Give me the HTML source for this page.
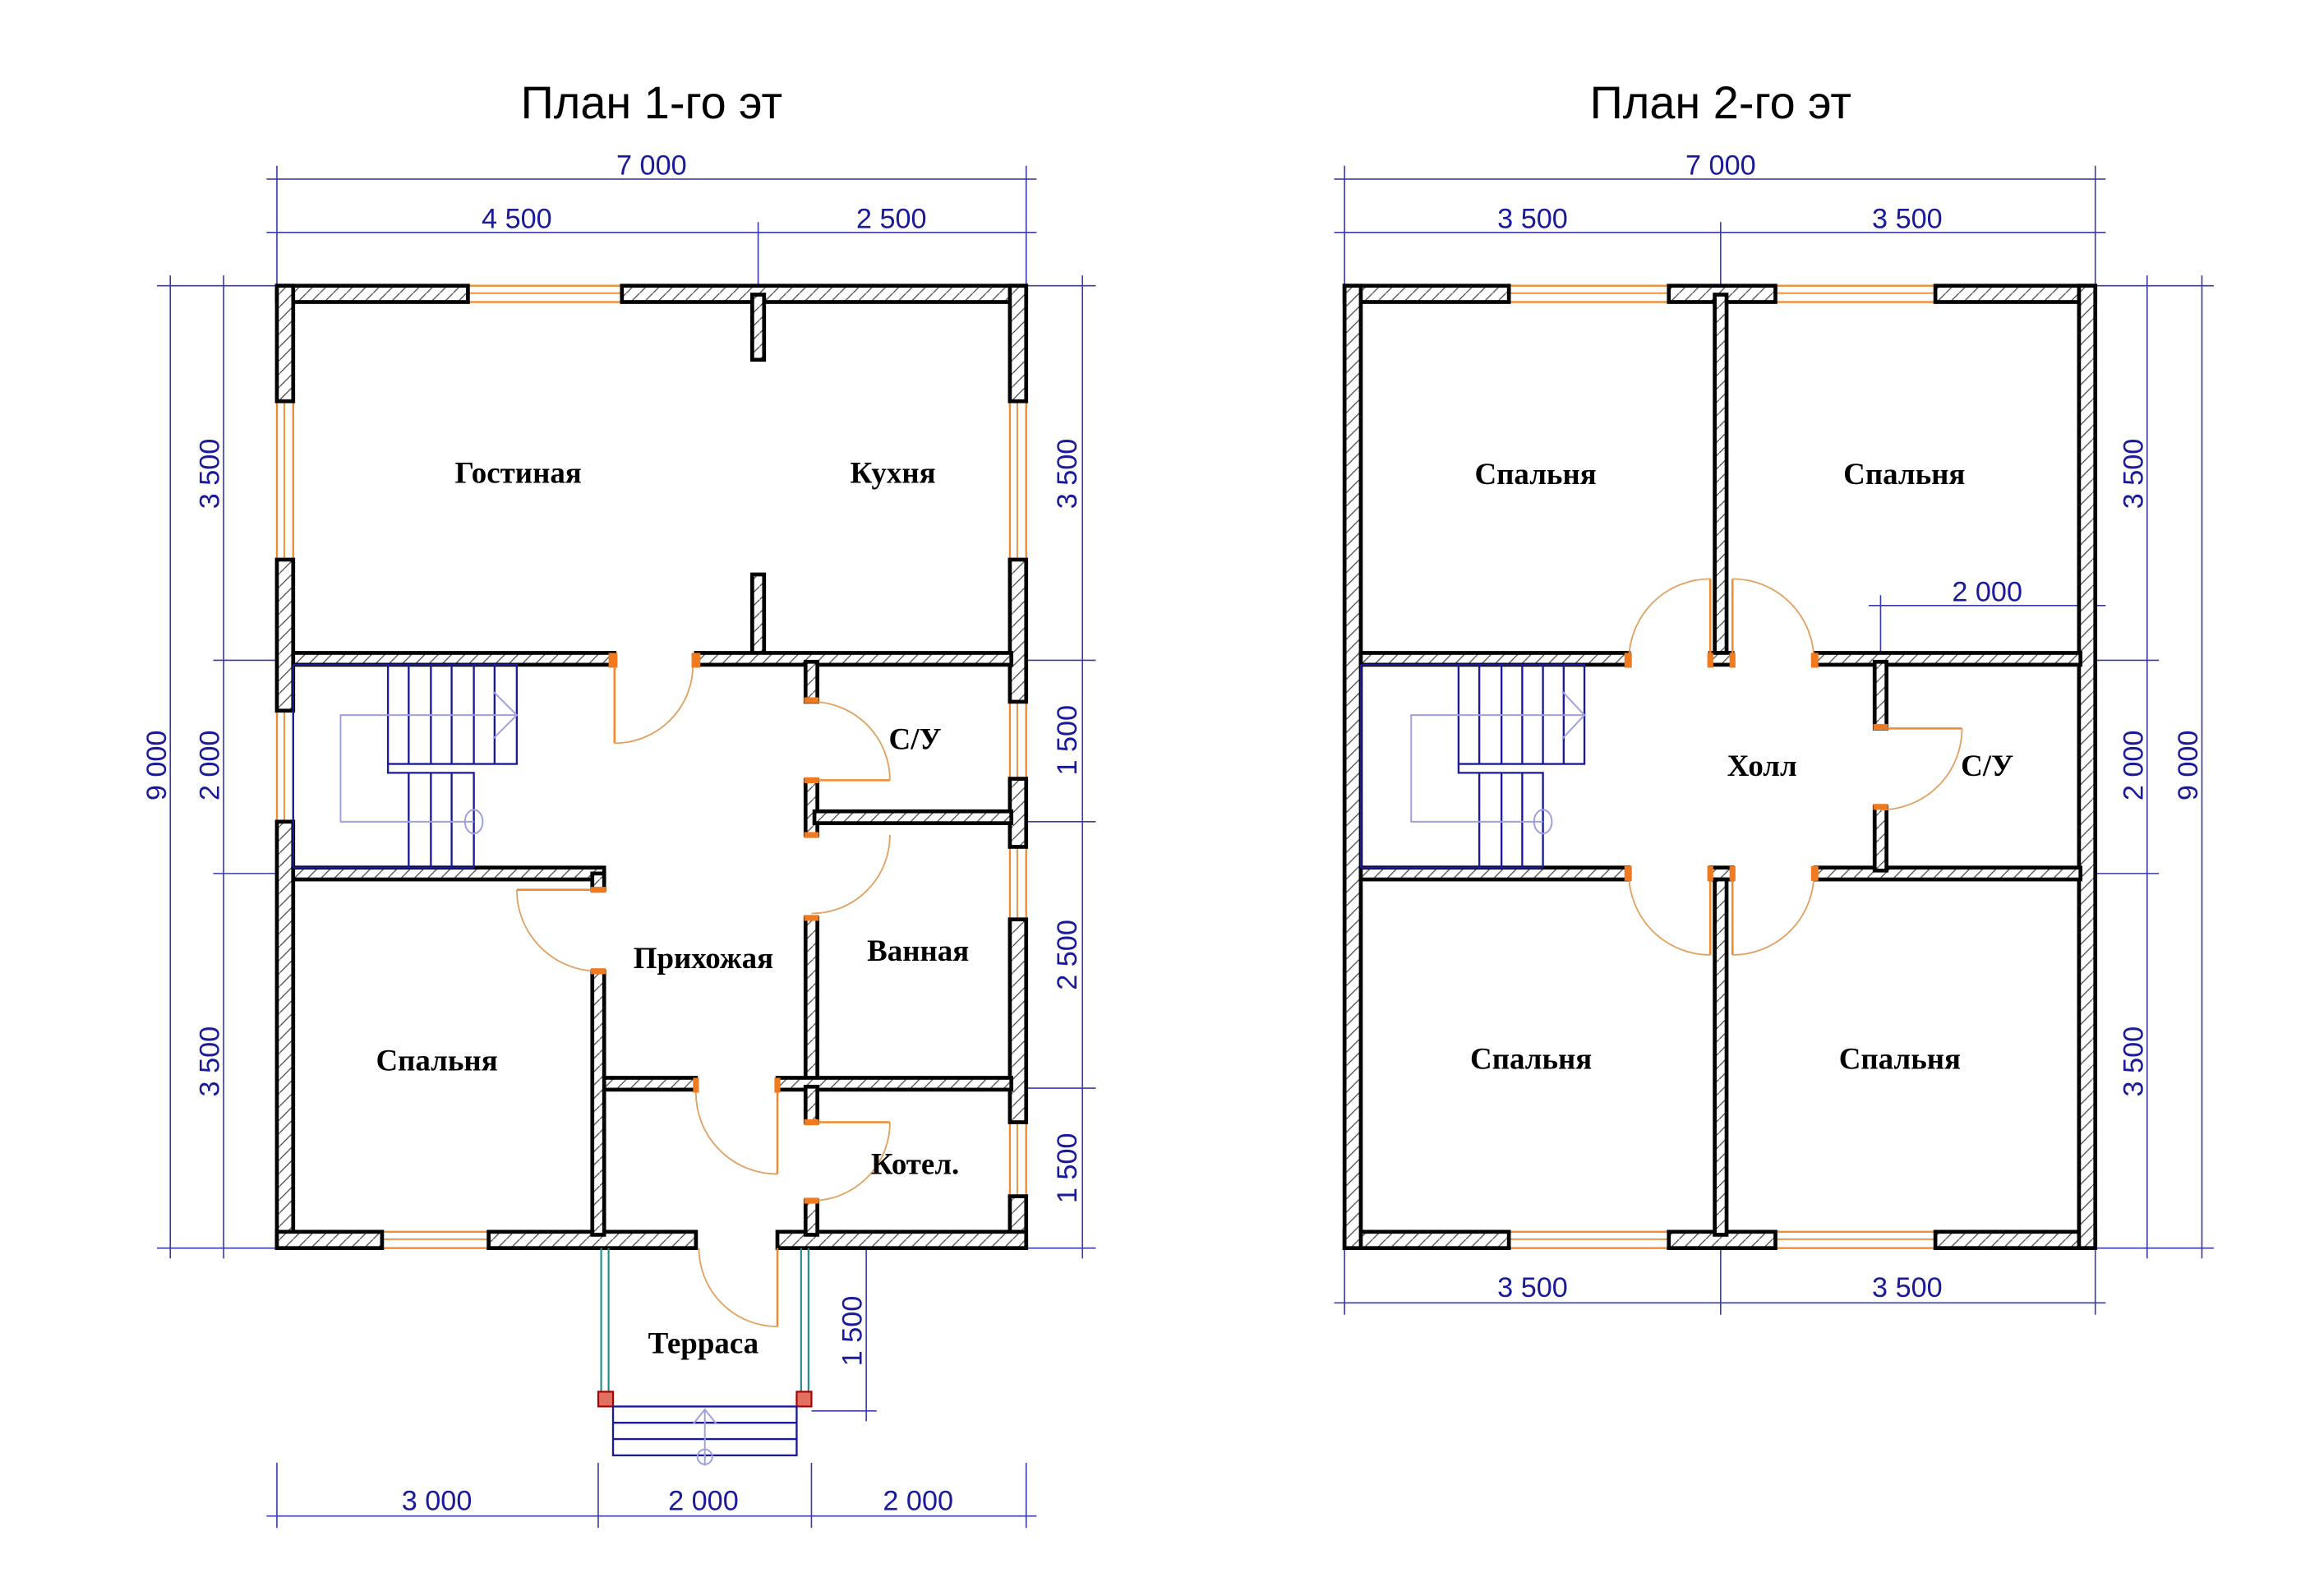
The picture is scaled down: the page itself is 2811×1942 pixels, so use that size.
<!DOCTYPE html>
<html><head><meta charset="utf-8"><style>
html,body{margin:0;padding:0;background:#fff;}
svg{display:block;}
.w{fill:url(#h);stroke:#000;stroke-width:2.6;}
.win{fill:#fff;stroke:#f08a2c;stroke-width:1.3;}
.d{stroke:#3a3aa8;stroke-width:0.9;fill:none;}
.dt{font-family:"Liberation Sans",sans-serif;font-size:19px;fill:#1a1a9a;text-anchor:middle;}
.lb{font-family:"Liberation Serif",serif;font-weight:bold;font-size:20.5px;fill:#000;text-anchor:middle;}
.tt{font-family:"Liberation Sans",sans-serif;font-size:31px;fill:#000;text-anchor:middle;}
.door{stroke:#f08a2c;stroke-width:1.4;fill:none;}
.arc{stroke:#e0a060;stroke-width:1;fill:none;}
.st{stroke:#1a1a9a;stroke-width:1.3;fill:none;}
.sl{stroke:#a0a0e0;stroke-width:1.1;fill:none;}
.jam{fill:#f07a20;}
</style></head><body>
<svg width="2811" height="1942" viewBox="0 0 1560 1078" preserveAspectRatio="none" xmlns="http://www.w3.org/2000/svg">
<defs><pattern id="h" patternUnits="userSpaceOnUse" width="9" height="9"><rect width="9" height="9" fill="#fff"/><line x1="0" y1="9" x2="9" y2="0" stroke="#444" stroke-width="0.7"/></pattern></defs>

<text class="tt" x="440" y="80">План 1-го эт</text>
<text class="tt" x="1162" y="80">План 2-го эт</text>

<g class="d">
<line x1="180" y1="121" x2="700" y2="121"/><line x1="180" y1="157" x2="700" y2="157"/>
<line x1="187" y1="112" x2="187" y2="193"/><line x1="693" y1="112" x2="693" y2="193"/><line x1="512" y1="150" x2="512" y2="193"/>
<line x1="115" y1="186" x2="115" y2="850"/><line x1="151" y1="186" x2="151" y2="850"/>
<line x1="106" y1="193" x2="187" y2="193"/><line x1="106" y1="843" x2="187" y2="843"/><line x1="144" y1="446" x2="187" y2="446"/><line x1="144" y1="590" x2="187" y2="590"/>
<line x1="731" y1="186" x2="731" y2="850"/>
<line x1="693" y1="193" x2="740" y2="193"/><line x1="693" y1="446" x2="740" y2="446"/><line x1="693" y1="555" x2="740" y2="555"/><line x1="693" y1="735" x2="740" y2="735"/><line x1="693" y1="843" x2="740" y2="843"/>
<line x1="180" y1="1024" x2="700" y2="1024"/>
<line x1="187" y1="988" x2="187" y2="1032"/><line x1="404" y1="988" x2="404" y2="1032"/><line x1="548" y1="988" x2="548" y2="1032"/><line x1="693" y1="988" x2="693" y2="1032"/>
<line x1="585" y1="836" x2="585" y2="960"/><line x1="548" y1="843" x2="592" y2="843"/><line x1="548" y1="953" x2="592" y2="953"/>
</g>
<text class="dt" x="440" y="118">7 000</text>
<text class="dt" x="349" y="154">4 500</text><text class="dt" x="602" y="154">2 500</text>
<text class="dt" x="295" y="1020">3 000</text><text class="dt" x="475" y="1020">2 000</text><text class="dt" x="620" y="1020">2 000</text>
<text class="dt" transform="translate(112,517) rotate(-90)">9 000</text>
<text class="dt" transform="translate(148,320) rotate(-90)">3 500</text>
<text class="dt" transform="translate(148,517) rotate(-90)">2 000</text>
<text class="dt" transform="translate(148,717) rotate(-90)">3 500</text>
<text class="dt" transform="translate(727,320) rotate(-90)">3 500</text>
<text class="dt" transform="translate(727,500) rotate(-90)">1 500</text>
<text class="dt" transform="translate(727,645) rotate(-90)">2 500</text>
<text class="dt" transform="translate(727,789) rotate(-90)">1 500</text>
<text class="dt" transform="translate(582,899) rotate(-90)">1 500</text>

<g>
<rect class="win" x="316" y="193" width="104" height="11"/><line x1="316" y1="198" x2="420" y2="198" stroke="#f08a2c"/>
<rect class="win" x="187" y="271" width="11" height="107"/><line x1="192" y1="271" x2="192" y2="378" stroke="#f08a2c"/>
<rect class="win" x="187" y="480" width="11" height="75"/><line x1="192" y1="480" x2="192" y2="555" stroke="#f08a2c"/>
<rect class="win" x="682" y="271" width="11" height="107"/><line x1="687" y1="271" x2="687" y2="378" stroke="#f08a2c"/>
<rect class="win" x="682" y="474" width="11" height="52"/><line x1="687" y1="474" x2="687" y2="526" stroke="#f08a2c"/>
<rect class="win" x="682" y="572" width="11" height="49"/><line x1="687" y1="572" x2="687" y2="621" stroke="#f08a2c"/>
<rect class="win" x="682" y="758" width="11" height="50"/><line x1="687" y1="758" x2="687" y2="808" stroke="#f08a2c"/>
<rect class="win" x="258" y="832" width="72" height="11"/><line x1="258" y1="837" x2="330" y2="837" stroke="#f08a2c"/>

<rect class="w" x="187" y="193" width="129" height="11"/><rect class="w" x="420" y="193" width="273" height="11"/>
<rect class="w" x="187" y="193" width="11" height="78"/><rect class="w" x="187" y="378" width="11" height="102"/><rect class="w" x="187" y="555" width="11" height="288"/>
<rect class="w" x="682" y="193" width="11" height="78"/><rect class="w" x="682" y="378" width="11" height="96"/><rect class="w" x="682" y="526" width="11" height="46"/><rect class="w" x="682" y="621" width="11" height="137"/><rect class="w" x="682" y="808" width="11" height="35"/>
<rect class="w" x="187" y="832" width="71" height="11"/><rect class="w" x="330" y="832" width="140" height="11"/><rect class="w" x="525" y="832" width="168" height="11"/>
<rect class="w" x="508" y="199" width="8" height="44"/><rect class="w" x="508" y="388" width="8" height="55"/>
<rect class="w" x="198" y="441" width="217" height="8"/><rect class="w" x="470" y="441" width="213" height="8"/>
<rect class="w" x="544" y="447" width="8" height="27"/>
<rect class="w" x="544" y="527" width="8" height="37"/><rect class="w" x="550" y="548" width="133" height="8"/>
<rect class="w" x="544" y="620" width="8" height="110"/>
<rect class="w" x="404" y="728" width="66" height="8"/><rect class="w" x="525" y="728" width="158" height="8"/>
<rect class="w" x="544" y="734" width="8" height="24"/><rect class="w" x="544" y="811" width="8" height="23"/>
<rect class="w" x="198" y="586" width="210" height="8"/><rect class="w" x="400" y="590" width="8" height="11"/>
<rect class="w" x="400" y="656" width="8" height="178"/>
</g>
<g class="st">
<line x1="198" y1="449" x2="198" y2="586"/>
<line x1="198" y1="449" x2="349" y2="449"/><line x1="198" y1="586" x2="320" y2="586"/>
<rect x="262" y="449" width="87" height="67"/>
<line x1="276" y1="449" x2="276" y2="516"/><line x1="291" y1="449" x2="291" y2="516"/><line x1="305" y1="449" x2="305" y2="516"/><line x1="320" y1="449" x2="320" y2="516"/><line x1="334" y1="449" x2="334" y2="516"/>
<polyline points="262,516 262,522 320,522 320,586"/>
<line x1="276" y1="522" x2="276" y2="586"/><line x1="291" y1="522" x2="291" y2="586"/><line x1="305" y1="522" x2="305" y2="586"/>
</g>
<g class="sl"><polyline points="349,483 230,483 230,555 320,555"/><polyline points="333,467 349,483 333,499"/><ellipse cx="320" cy="555" rx="6" ry="8"/></g>
<g>
<line class="door" x1="415" y1="449" x2="415" y2="502"/><path class="arc" d="M415,502 A53,53 0 0 0 468,449"/>
<line class="door" x1="548" y1="527" x2="601" y2="527"/><path class="arc" d="M601,527 A53,53 0 0 0 548,474"/>
<path class="arc" d="M601,564 A53,53 0 0 1 548,617"/>
<line class="door" x1="548" y1="758" x2="601" y2="758"/><path class="arc" d="M601,758 A53,53 0 0 1 548,811"/>
<line class="door" x1="404" y1="601" x2="349" y2="601"/><path class="arc" d="M349,601 A55,55 0 0 0 404,656"/>
<line class="door" x1="525" y1="736" x2="525" y2="793"/><path class="arc" d="M525,793 A55,55 0 0 1 470,736"/>
<line class="door" x1="525" y1="843" x2="525" y2="896"/><path class="arc" d="M525,896 A53,53 0 0 1 472,843"/>
<rect class="jam" x="411" y="441" width="6" height="10"/><rect class="jam" x="467" y="441" width="6" height="10"/>
<rect class="jam" x="543" y="471" width="10" height="4"/><rect class="jam" x="543" y="525" width="10" height="4"/>
<rect class="jam" x="543" y="562" width="10" height="4"/><rect class="jam" x="543" y="618" width="10" height="4"/>
<rect class="jam" x="543" y="756" width="10" height="4"/><rect class="jam" x="543" y="809" width="10" height="4"/>
<rect class="jam" x="399" y="599" width="10" height="4"/><rect class="jam" x="399" y="654" width="10" height="4"/>
<rect class="jam" x="468" y="728" width="4" height="10"/><rect class="jam" x="523" y="728" width="4" height="10"/>
</g>
<g>
<line x1="406" y1="843" x2="406" y2="940" stroke="#2a8a8a" stroke-width="1.2"/><line x1="411" y1="843" x2="411" y2="940" stroke="#2a8a8a" stroke-width="1.2"/>
<line x1="541" y1="843" x2="541" y2="940" stroke="#2a8a8a" stroke-width="1.2"/><line x1="546" y1="843" x2="546" y2="940" stroke="#2a8a8a" stroke-width="1.2"/>
<rect x="404" y="940" width="10" height="10" fill="#e07060" stroke="#a00" stroke-width="1.2"/>
<rect x="538" y="940" width="10" height="10" fill="#e07060" stroke="#a00" stroke-width="1.2"/>
<g class="st"><rect x="414" y="950" width="124" height="33"/><line x1="414" y1="961" x2="538" y2="961"/><line x1="414" y1="972" x2="538" y2="972"/></g>
<g class="sl"><line x1="476" y1="952" x2="476" y2="990"/><polyline points="468,962 476,952 484,962"/><circle cx="476" cy="984" r="5"/></g>
</g>
<text class="lb" x="350" y="326">Гостиная</text>
<text class="lb" x="603" y="326">Кухня</text>
<text class="lb" x="618" y="506">С/У</text>
<text class="lb" x="475" y="654">Прихожая</text>
<text class="lb" x="620" y="649">Ванная</text>
<text class="lb" x="295" y="723">Спальня</text>
<text class="lb" x="618" y="793">Котел.</text>
<text class="lb" x="475" y="914">Терраса</text>

<g class="d">
<line x1="901" y1="121" x2="1422" y2="121"/><line x1="901" y1="157" x2="1422" y2="157"/>
<line x1="908" y1="112" x2="908" y2="193"/><line x1="1415" y1="112" x2="1415" y2="193"/><line x1="1162" y1="150" x2="1162" y2="193"/>
<line x1="901" y1="880" x2="1422" y2="880"/>
<line x1="908" y1="843" x2="908" y2="888"/><line x1="1162" y1="843" x2="1162" y2="888"/><line x1="1415" y1="843" x2="1415" y2="888"/>
<line x1="1450" y1="186" x2="1450" y2="850"/><line x1="1487" y1="186" x2="1487" y2="850"/>
<line x1="1415" y1="193" x2="1495" y2="193"/><line x1="1415" y1="843" x2="1495" y2="843"/><line x1="1415" y1="446" x2="1458" y2="446"/><line x1="1415" y1="590" x2="1458" y2="590"/>
<line x1="1262" y1="409" x2="1422" y2="409"/><line x1="1270" y1="402" x2="1270" y2="446"/>
</g>
<text class="dt" x="1162" y="118">7 000</text>
<text class="dt" x="1035" y="154">3 500</text><text class="dt" x="1288" y="154">3 500</text>
<text class="dt" x="1035" y="876">3 500</text><text class="dt" x="1288" y="876">3 500</text>
<text class="dt" x="1342" y="406">2 000</text>
<text class="dt" transform="translate(1447,320) rotate(-90)">3 500</text>
<text class="dt" transform="translate(1447,517) rotate(-90)">2 000</text>
<text class="dt" transform="translate(1447,717) rotate(-90)">3 500</text>
<text class="dt" transform="translate(1484,517) rotate(-90)">9 000</text>

<g>
<rect class="win" x="1019" y="193" width="108" height="11"/><line x1="1019" y1="198" x2="1127" y2="198" stroke="#f08a2c"/>
<rect class="win" x="1199" y="193" width="108" height="11"/><line x1="1199" y1="198" x2="1307" y2="198" stroke="#f08a2c"/>
<rect class="win" x="1019" y="832" width="108" height="11"/><line x1="1019" y1="837" x2="1127" y2="837" stroke="#f08a2c"/>
<rect class="win" x="1199" y="832" width="108" height="11"/><line x1="1199" y1="837" x2="1307" y2="837" stroke="#f08a2c"/>
<rect class="w" x="908" y="193" width="111" height="11"/><rect class="w" x="1127" y="193" width="72" height="11"/><rect class="w" x="1307" y="193" width="108" height="11"/>
<rect class="w" x="908" y="832" width="111" height="11"/><rect class="w" x="1127" y="832" width="72" height="11"/><rect class="w" x="1307" y="832" width="108" height="11"/>
<rect class="w" x="908" y="193" width="11" height="650"/><rect class="w" x="1404" y="193" width="11" height="650"/>
<rect class="w" x="1158" y="199" width="8" height="242"/><rect class="w" x="1155" y="441" width="15" height="8"/>
<rect class="w" x="1155" y="586" width="15" height="8"/><rect class="w" x="1158" y="594" width="8" height="240"/>
<rect class="w" x="919" y="441" width="181" height="8"/><rect class="w" x="1226" y="441" width="179" height="8"/>
<rect class="w" x="919" y="586" width="181" height="8"/><rect class="w" x="1226" y="586" width="179" height="8"/>
<rect class="w" x="1266" y="447" width="8" height="45"/><rect class="w" x="1266" y="545" width="8" height="43"/>
</g>
<g class="st">
<line x1="919" y1="449" x2="919" y2="586"/>
<line x1="919" y1="449" x2="1070" y2="449"/><line x1="919" y1="586" x2="1042" y2="586"/>
<rect x="985" y="449" width="85" height="67"/>
<line x1="999" y1="449" x2="999" y2="516"/><line x1="1014" y1="449" x2="1014" y2="516"/><line x1="1028" y1="449" x2="1028" y2="516"/><line x1="1042" y1="449" x2="1042" y2="516"/><line x1="1056" y1="449" x2="1056" y2="516"/>
<polyline points="985,516 985,522 1042,522 1042,586"/>
<line x1="999" y1="522" x2="999" y2="586"/><line x1="1014" y1="522" x2="1014" y2="586"/><line x1="1028" y1="522" x2="1028" y2="586"/>
</g>
<g class="sl"><polyline points="1070,483 953,483 953,555 1042,555"/><polyline points="1055,467 1070,483 1055,499"/><ellipse cx="1042" cy="555" rx="6" ry="8"/></g>
<g>
<line class="door" x1="1155" y1="446" x2="1155" y2="391"/><path class="arc" d="M1155,391 A55,55 0 0 0 1100,446"/>
<line class="door" x1="1170" y1="446" x2="1170" y2="391"/><path class="arc" d="M1170,391 A55,55 0 0 1 1225,446"/>
<line class="door" x1="1155" y1="590" x2="1155" y2="645"/><path class="arc" d="M1155,645 A55,55 0 0 1 1100,590"/>
<line class="door" x1="1170" y1="590" x2="1170" y2="645"/><path class="arc" d="M1170,645 A55,55 0 0 0 1225,590"/>
<line class="door" x1="1270" y1="492" x2="1325" y2="492"/><path class="arc" d="M1325,492 A55,55 0 0 1 1270,547"/>
<rect class="jam" x="1097" y="441" width="5" height="10"/><rect class="jam" x="1223" y="441" width="5" height="10"/>
<rect class="jam" x="1097" y="585" width="5" height="10"/><rect class="jam" x="1223" y="585" width="5" height="10"/>
<rect class="jam" x="1153" y="441" width="4" height="10"/><rect class="jam" x="1168" y="441" width="4" height="10"/>
<rect class="jam" x="1153" y="585" width="4" height="10"/><rect class="jam" x="1168" y="585" width="4" height="10"/>
<rect class="jam" x="1265" y="489" width="10" height="4"/><rect class="jam" x="1265" y="543" width="10" height="4"/>
</g>
<text class="lb" x="1037" y="327">Спальня</text>
<text class="lb" x="1286" y="327">Спальня</text>
<text class="lb" x="1190" y="524">Холл</text>
<text class="lb" x="1342" y="524">С/У</text>
<text class="lb" x="1034" y="722">Спальня</text>
<text class="lb" x="1283" y="722">Спальня</text>
</svg>
</body></html>
